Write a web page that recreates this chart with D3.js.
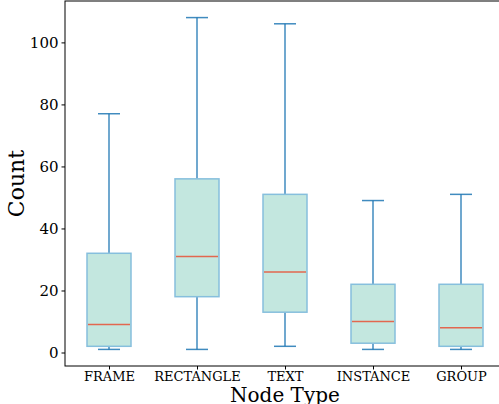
<!DOCTYPE html>
<html><head><meta charset="utf-8">
<script src="https://cdn.jsdelivr.net/npm/d3@7"></script>
<style>html,body{margin:0;padding:0;background:#fff;overflow:hidden}svg{display:block}</style>
</head><body>
<svg id="c" width="499" height="404"></svg>
<script>
const categories = ["FRAME","RECTANGLE","TEXT","INSTANCE","GROUP"];
const whiskerLow = [1, 1, 2, 1, 1];
const q1 = [2, 18, 13, 3, 2];
const median = [9, 31, 26, 10, 8];
const q3 = [32, 56, 51, 22, 22];
const whiskerHigh = [77, 108, 106, 49, 51];
const yTicks = [0, 20, 40, 60, 80, 100];

const svg = d3.select("#c");
const L = 65, R = 505, T = 1, B = 366;
const x = d3.scaleLinear().domain([0.5, 5.5]).range([L, R]);
const y = d3.scaleLinear().domain([-4.35, 113.35]).range([B, T]);
const bw = 0.5, capw = 0.25;
const font = "DejaVu Serif, serif";

const g = svg.append("g");
categories.forEach((c, i) => {
  const cx = x(i + 1);
  const half = (x(1 + bw/2) - x(1));
  const ch = (x(1 + capw/2) - x(1));
  const wc = "rgba(31,119,180,0.85)";
  // whiskers
  g.append("line").attr("x1", cx).attr("x2", cx).attr("y1", y(q3[i])).attr("y2", y(whiskerHigh[i])).attr("stroke", wc).attr("stroke-width", 1.5);
  g.append("line").attr("x1", cx).attr("x2", cx).attr("y1", y(q1[i])).attr("y2", y(whiskerLow[i])).attr("stroke", wc).attr("stroke-width", 1.5);
  g.append("line").attr("x1", cx - ch).attr("x2", cx + ch).attr("y1", y(whiskerHigh[i])).attr("y2", y(whiskerHigh[i])).attr("stroke", wc).attr("stroke-width", 1.5);
  g.append("line").attr("x1", cx - ch).attr("x2", cx + ch).attr("y1", y(whiskerLow[i])).attr("y2", y(whiskerLow[i])).attr("stroke", wc).attr("stroke-width", 1.5);
  // box
  g.append("rect").attr("x", cx - half).attr("width", 2*half)
    .attr("y", y(q3[i])).attr("height", y(q1[i]) - y(q3[i]))
    .attr("fill", "#c3e7df").attr("stroke", "#86bfdd").attr("stroke-width", 1.5);
  // median
  g.append("line").attr("x1", cx - half + 1).attr("x2", cx + half - 1).attr("y1", y(median[i])).attr("y2", y(median[i])).attr("stroke", "#e2674f").attr("stroke-width", 1.5);
});

// axes
const ya = svg.append("g").attr("transform", `translate(${L},0)`)
  .call(d3.axisLeft(y).tickValues(yTicks).tickSize(3.5).tickPadding(3));
ya.select(".domain").remove();
ya.selectAll("text").attr("font-family", font).attr("font-size", 15).attr("fill", "#000");
ya.selectAll("line").attr("stroke", "#000");

const xa = svg.append("g").attr("transform", `translate(0,${B})`)
  .call(d3.axisBottom(x).tickValues([1,2,3,4,5]).tickFormat((d) => categories[d-1]).tickSize(3.5).tickPadding(2));
xa.select(".domain").remove();
xa.selectAll("text").attr("font-family", font).attr("font-size", 13).attr("fill", "#000");
xa.selectAll("line").attr("stroke", "#000");

// frame
svg.append("rect").attr("x", L).attr("y", T).attr("width", R - L).attr("height", B - T)
  .attr("fill", "none").attr("stroke", "#000").attr("stroke-width", 1);

svg.append("text").attr("x", x(3)).attr("y", 402).attr("text-anchor", "middle")
  .attr("font-family", font).attr("font-size", 20).text("Node Type");
svg.append("text").attr("transform", `translate(24,${y(54.5)}) rotate(-90)`).attr("text-anchor", "middle")
  .attr("font-family", font).attr("font-size", 22).text("Count");
</script>
</body></html>
